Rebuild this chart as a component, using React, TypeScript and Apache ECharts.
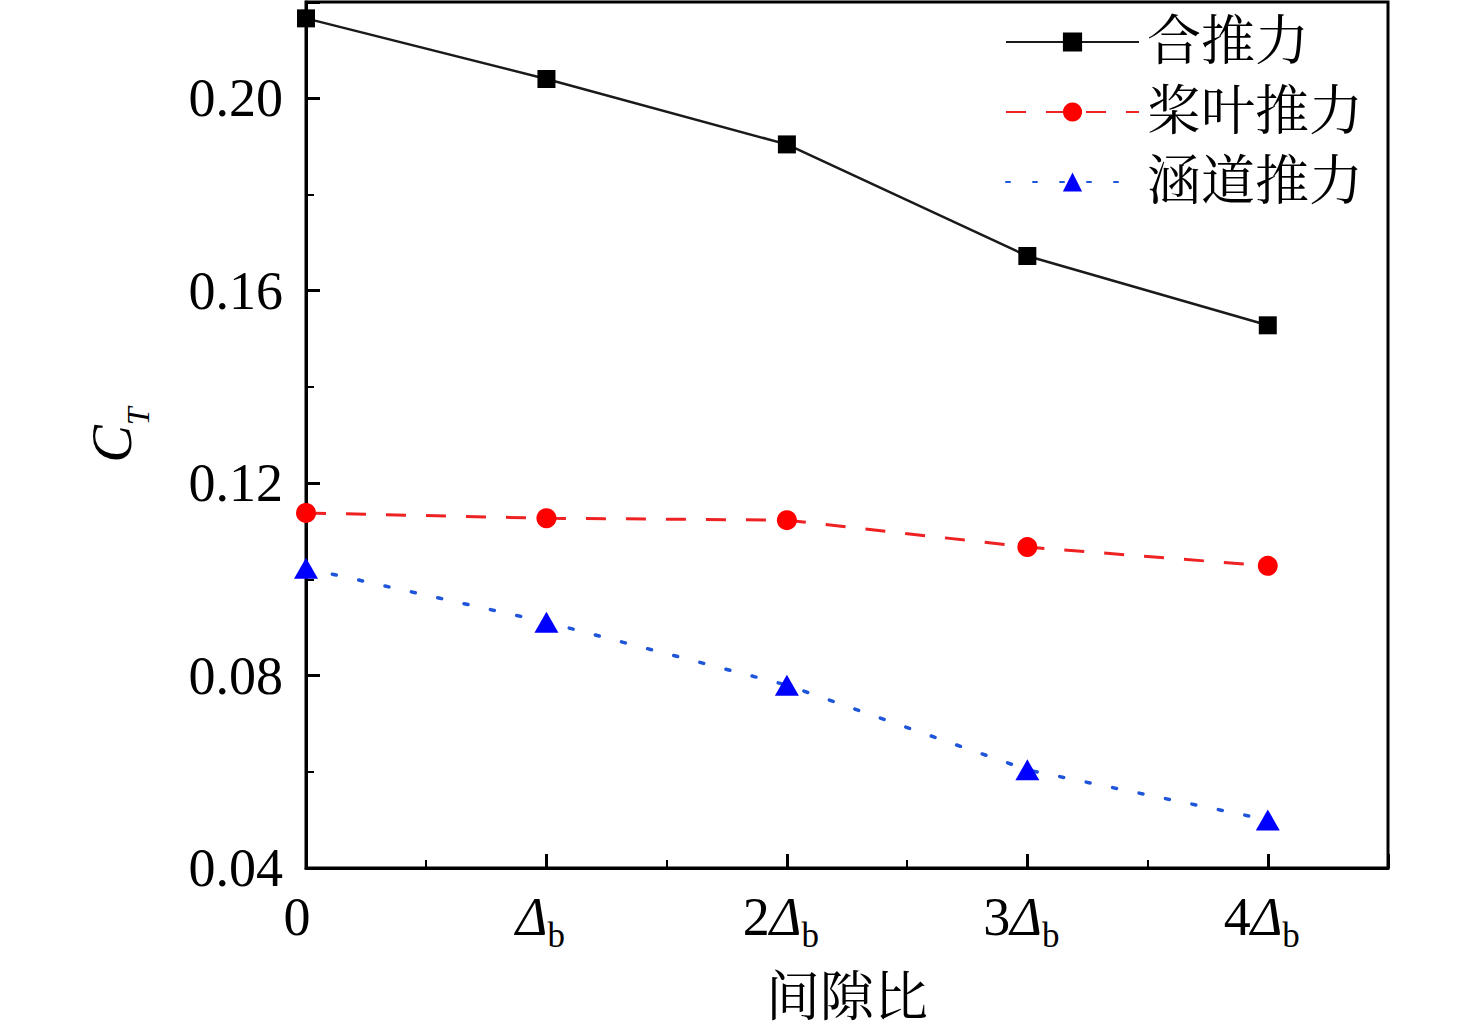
import { useEffect, useRef } from "react";
import * as echarts from "echarts";

// gap ratio positions (multiples of Δb)
const gapRatio = [0, 1, 2, 3, 4];
const gapLabels = ["0", "", "2", "3", "4"]; // prefix before Δb
const totalThrust = [0.2166, 0.204, 0.1904, 0.1672, 0.1528];
const bladeThrust = [0.1138, 0.1127, 0.1123, 0.1067, 0.1028];
const ductThrust = [0.1023, 0.0911, 0.078, 0.0604, 0.05];
const seriesNames = ["合推力", "桨叶推力", "涵道推力"];

const SERIF = '"Liberation Serif", "Times New Roman", "Noto Serif CJK SC", "Noto Sans CJK SC", serif';

export default function App() {
    const chartRef = useRef<HTMLDivElement>(null);

    useEffect(() => {
        if (!chartRef.current) return;
        const chart = echarts.init(chartRef.current, null, { renderer: "svg" });

        const pts = (vals: number[]) => gapRatio.map((x, i) => [x, vals[i]]);

        const xMain = {
            type: "value",
            min: 0,
            max: 4.5,
            interval: 1,
            position: "bottom",
            axisLine: { show: true, lineStyle: { color: "#000", width: 3 } },
            axisTick: { show: true, inside: true, length: 14, lineStyle: { color: "#000", width: 3 } },
            splitLine: { show: false },
            axisLabel: {
                margin: 19,
                color: "#000",
                fontFamily: SERIF,
                formatter: (v: number) => {
                    const i = gapRatio.indexOf(v);
                    if (i < 0) return "";
                    if (v === 0) return "{z|0}";
                    return `{n|${gapLabels[i]}}{d|Δ}{s|b}`;
                },
                rich: {
                    z: { fontSize: 54, fontFamily: SERIF, color: "#000", lineHeight: 60, padding: [0, 18, 0, 0] },
                    n: { fontSize: 54, fontFamily: SERIF, color: "#000", lineHeight: 60 },
                    d: { fontSize: 54, fontFamily: SERIF, fontStyle: "italic", color: "#000", lineHeight: 60 },
                    s: { fontSize: 35, fontFamily: SERIF, color: "#000", height: 24, lineHeight: 24, verticalAlign: "bottom", padding: [0, 12, 0, 0] },
                },
            },
            name: "间隙比",
            nameLocation: "middle",
            nameGap: 105,
            nameTextStyle: { fontSize: 54, fontFamily: SERIF, color: "#000", lineHeight: 50 },
        };

        const xMinor = {
            type: "value",
            min: 0,
            max: 4.5,
            interval: 0.5,
            position: "bottom",
            axisLine: { show: false },
            axisTick: { show: true, inside: true, length: 8, lineStyle: { color: "#000", width: 2 } },
            axisLabel: { show: false },
            splitLine: { show: false },
        };

        const yMain = {
            type: "value",
            min: 0.04,
            max: 0.22,
            interval: 0.04,
            position: "left",
            axisLine: { show: true, lineStyle: { color: "#000", width: 3 } },
            axisTick: { show: true, inside: true, length: 14, lineStyle: { color: "#000", width: 3 } },
            splitLine: { show: false },
            axisLabel: {
                margin: 23,
                color: "#000",
                fontSize: 54,
                fontFamily: SERIF,
                formatter: (v: number) => (v > 0.21 ? "" : v.toFixed(2)),
            },
            name: "{c|C}{t|T}",
            nameLocation: "middle",
            nameRotate: 90,
            nameGap: 164,
            nameTextStyle: {
                rich: {
                    c: { fontSize: 56, fontFamily: SERIF, fontStyle: "italic", color: "#000", lineHeight: 60 },
                    t: { fontSize: 32, fontFamily: SERIF, fontStyle: "italic", color: "#000", height: 8, lineHeight: 8, verticalAlign: "bottom" },
                },
            },
        };

        const yMinor = {
            type: "value",
            min: 0.04,
            max: 0.22,
            interval: 0.02,
            position: "left",
            axisLine: { show: false },
            axisTick: { show: true, inside: true, length: 8, lineStyle: { color: "#000", width: 2 } },
            axisLabel: { show: false },
            splitLine: { show: false },
        };

        const option = {
            animation: false,
            backgroundColor: "#fff",
            grid: {
                left: 306,
                right: 88,
                top: 2,
                bottom: 160,
                show: true,
                borderColor: "#000",
                borderWidth: 3,
                containLabel: false,
                outerBoundsMode: "none",
            },
            legend: {
                orient: "vertical",
                left: 1005,
                top: 12,
                padding: 0,
                itemWidth: 133,
                itemHeight: 24,
                itemGap: 10,
                textStyle: { fontSize: 54, fontFamily: SERIF, color: "#000", lineHeight: 60, padding: [0, 0, 0, 3] },
                data: seriesNames,
            },
            xAxis: [xMain, xMinor],
            yAxis: [yMain, yMinor],
            series: [
                {
                    name: seriesNames[0],
                    type: "line",
                    data: pts(totalThrust),
                    symbol: "rect",
                    symbolSize: 18,
                    itemStyle: { color: "#000" },
                    lineStyle: { color: "#1a1a1a", width: 2.5 },
                },
                {
                    name: seriesNames[1],
                    type: "line",
                    data: pts(bladeThrust),
                    symbol: "circle",
                    symbolSize: 20,
                    itemStyle: { color: "#ff0000" },
                    lineStyle: { color: "#ee2222", width: 3, type: [20, 20] },
                },
                {
                    name: seriesNames[2],
                    type: "line",
                    data: pts(ductThrust),
                    symbol: "triangle",
                    symbolSize: [24, 21],
                    itemStyle: { color: "#0000ff" },
                    lineStyle: { color: "#1f55d8", width: 3.5, type: [4, 23], cap: "round" },
                },
            ],
        };

        chart.setOption(option);
        return () => {
            chart.dispose();
        };
    }, []);

    return (
        <div
            ref={chartRef}
            style={{ position: "fixed", left: 0, top: 0, width: 1476, height: 1028, background: "#fff" }}
        />
    );
}
